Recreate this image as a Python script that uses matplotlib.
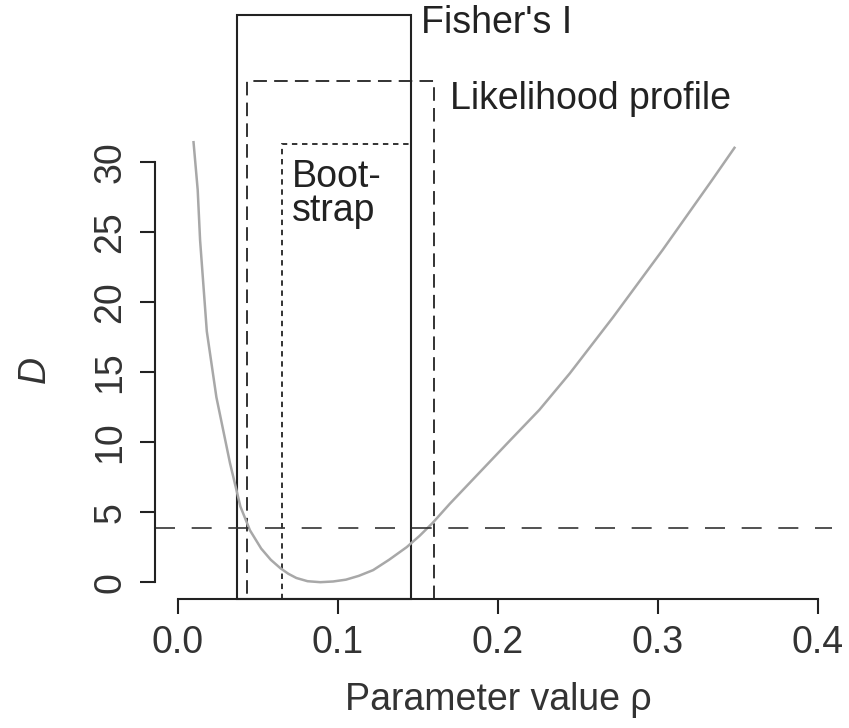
import matplotlib
matplotlib.use("Agg")
import matplotlib.pyplot as plt
from matplotlib.patches import Rectangle

plt.rcParams['font.family'] = ['Liberation Sans', 'DejaVu Sans']

# deviance curve
rho = [0.0097, 0.0123, 0.0138, 0.018, 0.024, 0.0325, 0.039, 0.045, 0.052, 0.058,
       0.064, 0.069, 0.074, 0.081, 0.089, 0.097, 0.105, 0.113, 0.122, 0.132,
       0.143, 0.151, 0.159, 0.170, 0.1825, 0.195, 0.2075, 0.226, 0.245, 0.272,
       0.303, 0.334, 0.348]
dev = [31.4, 28.0, 24.4, 17.9, 13.2, 8.5, 5.4, 3.7, 2.4, 1.6,
       1.0, 0.6, 0.3, 0.07, 0.0, 0.05, 0.18, 0.45, 0.86, 1.6,
       2.5, 3.3, 4.2, 5.6, 7.1, 8.6, 10.1, 12.3, 14.9, 18.9,
       23.7, 28.7, 31.0]

# confidence intervals (lower, upper, box height)
names = ["Fisher's I", "Likelihood profile", "Boot-\nstrap"]
lower = [0.037, 0.043, 0.065]
upper = [0.146, 0.160, 0.146]
tops = [40.5, 35.8, 31.3]
chi2 = 3.84

xticks = [0.0, 0.1, 0.2, 0.3, 0.4]
yticks = [0, 5, 10, 15, 20, 25, 30]

fig = plt.figure(figsize=(8.49, 7.28), dpi=100)
ax = fig.add_axes([155/849, 1-599/728, 677/849, 468/728])
ax.set_xlim(-0.0144, 0.409)
ax.set_ylim(-1.2, 32.2)

ax.plot(rho, dev, color='#a8a8a8', lw=1.8)
ax.axhline(chi2, color='#333333', lw=1.2, ls=(0, (12, 10)))

styles = ['-', (0, (7.5, 4)), (0, (3, 2.6))]
widths = [1.5, 1.3, 1.3]
for lo, hi, top, ls, lw in zip(lower, upper, tops, styles, widths):
    r = Rectangle((lo, -1.2), hi - lo, top + 1.2, fill=False, ec='#222222',
                  ls=ls, lw=lw, clip_on=False)
    ax.add_patch(r)

fs = 27
ax.text(0.152, 39.9, names[0], fontsize=fs, va='center', ha='left', color='#222222')
ax.text(0.170, 34.5, names[1], fontsize=fs, va='center', ha='left', color='#222222')
ax.text(0.071, 27.7, names[2], fontsize=fs, va='center', ha='left', color='#222222',
        linespacing=0.95)

for s in ['top', 'right']:
    ax.spines[s].set_visible(False)
ax.spines['left'].set_bounds(0, 30)
ax.spines['bottom'].set_bounds(0, 0.4)
for s in ['left', 'bottom']:
    ax.spines[s].set_linewidth(1.5)
    ax.spines[s].set_color('#222222')

ax.set_xticks(xticks)
ax.set_xticklabels(['%.1f' % v for v in xticks])
ax.set_yticks(yticks)
ax.set_yticklabels([str(v) for v in yticks], rotation=90, va='center')
ax.tick_params(length=11, width=1.5, color='#222222', labelsize=fs,
               labelcolor='#333333', pad=8)

ax.set_xlabel('Parameter value ρ', fontsize=fs, color='#333333')
ax.xaxis.set_label_coords(0.507, -0.215)
ax.xaxis.label.set_va('center')
ax.set_ylabel('D', fontsize=fs, style='italic', color='#333333')
ax.yaxis.set_label_coords(-0.177, 0.49)
ax.yaxis.label.set_va('center')

plt.savefig('out.png', dpi=100)
